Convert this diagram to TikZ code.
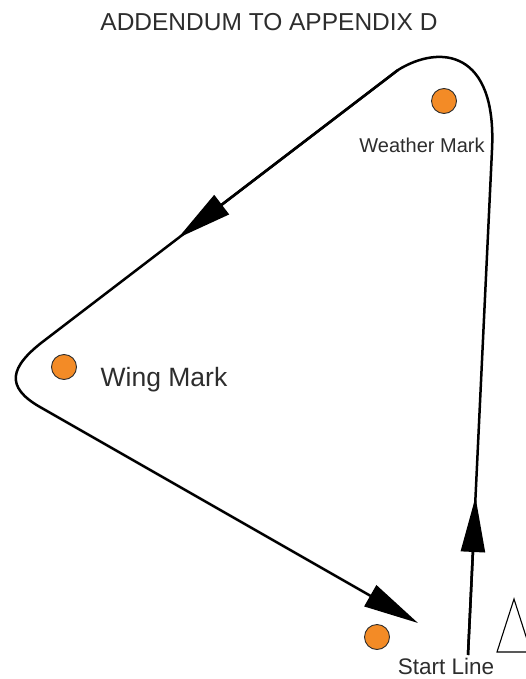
\documentclass[tikz,border=0pt]{standalone}
\usepackage{fontspec}
\setmainfont{Liberation Sans}
\usepackage{xcolor}
\usetikzlibrary{arrows.meta}

\definecolor{markorange}{RGB}{243,139,38}
\definecolor{labelgray}{RGB}{45,45,45}

\tikzset{
    route/.style={line width=2.5pt, black},
    bigtip/.style={-{Triangle[length=55pt, width=24pt]}},
    buoy/.style={circle, draw=labelgray, line width=0.9pt, fill=markorange, minimum size=25pt, inner sep=0pt},
    marktext/.style={text=labelgray, inner sep=0pt}
}

\begin{document}
\begin{tikzpicture}[x=1pt, y=-1pt]

    \useasboundingbox (0,0) rectangle (525,679);

    % Title
    \node[marktext, font=\fontsize{24.5}{27}\selectfont] (title) at (269,22) {ADDENDUM TO APPENDIX D};

    % Marks
    \node[buoy] (weather) at (444,101) {};
    \node[marktext, font=\fontsize{20}{22}\selectfont] (weatherlabel) at (422,145) {Weather Mark};

    \node[buoy] (wing) at (64,367) {};
    \node[marktext, font=\fontsize{26.5}{29}\selectfont] (winglabel) at (164,380) {Wing Mark};

    \node[buoy] (startmark) at (377,637) {};
    \node[marktext, font=\fontsize{22.5}{25}\selectfont] (startlabel) at (446,666) {Start Line};

    % Committee boat
    \draw[line width=1.1pt] (497,652) -- (514,599) -- (531,652) -- cycle;

    % Course points
    \coordinate (start) at (468,655);
    \coordinate (uptip) at (475.5,497);
    \coordinate (topin) at (492,150);
    \coordinate (topout) at (398,70);
    \coordinate (lefttip) at (178,238);
    \coordinate (leftin) at (45,340);
    \coordinate (leftout) at (40,407);
    \coordinate (endtip) at (418,623);

    % Whole course, start to finish
    \draw[route, bigtip] (start) -- (topin) .. controls (497,50) and (440,44) .. (topout)
        -- (leftin) .. controls (9,367) and (5,387) .. (leftout) -- (endtip);

    % Direction arrows on the first two legs
    \draw[route, bigtip] (start) -- (uptip);
    \draw[route, bigtip] (topout) -- (lefttip);

\end{tikzpicture}
\end{document}
